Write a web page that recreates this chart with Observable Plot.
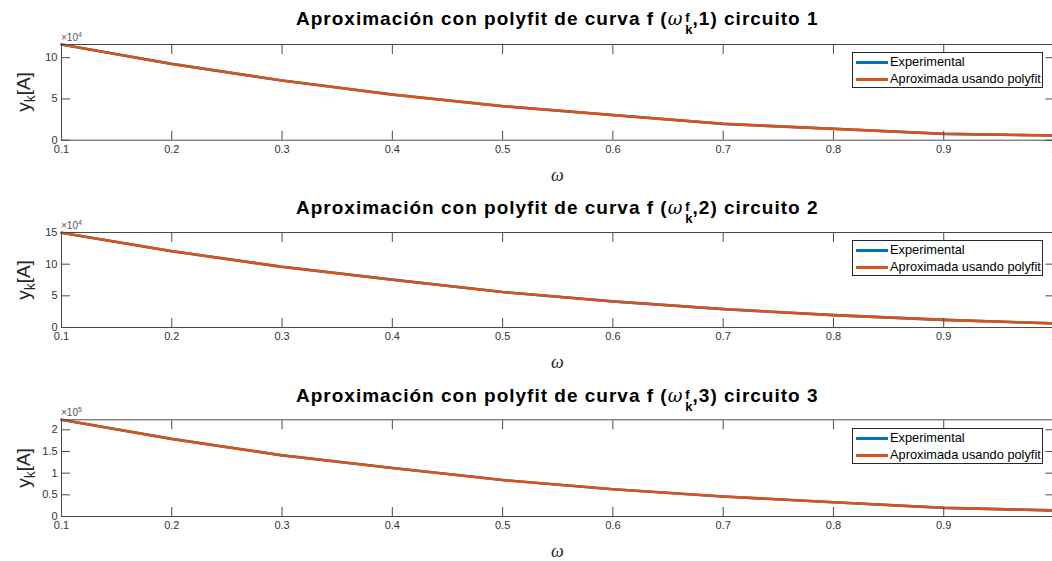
<!DOCTYPE html>
<html><head><meta charset="utf-8">
<script src="https://cdn.jsdelivr.net/npm/d3@7"></script>
<script src="https://cdn.jsdelivr.net/npm/@observablehq/plot@0.6"></script>
<style>
body{margin:0;background:#fff;overflow:hidden;font-family:"Liberation Sans",Arial,sans-serif}
#root{position:relative;width:1052px;height:561px;overflow:hidden;background:#fff}
.abs{position:absolute;white-space:nowrap}
.title{font-weight:bold;font-size:19px;line-height:19px;letter-spacing:1px;color:#000;transform:translateX(-50%)}
.w{font-weight:normal;font-style:italic;font-family:"DejaVu Serif","Liberation Serif",serif;font-size:18px;letter-spacing:0;margin-right:1px}
.ss{display:inline-flex;flex-direction:column;font-size:13px;line-height:12px;margin-left:2px;position:relative;top:-3px;letter-spacing:0}
.ylab{font-size:19px;color:#262626;transform:translate(-50%,-50%) rotate(-90deg)}
.ylab sub{font-size:14px;vertical-align:-5px}
.xlab{font-size:18px;font-style:italic;font-family:"Liberation Serif",serif;color:#262626;transform:translate(-50%,-50%)}
.mult{font-size:10px;color:#555}
.mult sup{font-size:7px;vertical-align:4px}
.legend{border:1px solid #262626;background:#fff;font-size:12.8px;color:#000;box-sizing:border-box}
.legend .row{position:absolute;left:3px;height:14px;line-height:14px}
.legend .sw{display:inline-block;width:32px;height:3px;vertical-align:middle;margin-right:2px}
svg{overflow:visible}
</style>
</head><body><div id="root"></div>
<script>
// ---- data ----
const omega = [0.1, 0.2, 0.3, 0.4, 0.5, 0.6, 0.7, 0.8, 0.9, 1.0];
const exp1 = [116000, 92500, 72300, 55300, 41200, 30500, 19800, 13800, 7700, 5700];
const fit1 = [116000, 92400, 72400, 55200, 41300, 30400, 19900, 13700, 7800, 5700];
const exp2 = [149500, 120500, 95800, 75600, 56000, 41200, 29000, 19500, 12000, 6500];
const fit2 = [149500, 120600, 95700, 75500, 56100, 41100, 29100, 19600, 12100, 6400];
const exp3 = [223000, 179000, 141000, 112000, 84000, 63000, 46000, 33000, 20000, 14000];
const fit3 = [223000, 178800, 141200, 111900, 84100, 62900, 46100, 32800, 20200, 13900];
const seriesNames = ["Experimental", "Aproximada usando polyfit"];
const seriesColors = ["#0072BD", "#D95319"];
const xTicks = [0.1, 0.2, 0.3, 0.4, 0.5, 0.6, 0.7, 0.8, 0.9, 1.0];
const yTicks1 = [0, 50000, 100000];
const yTicks2 = [0, 50000, 100000, 150000];
const yTicks3 = [0, 50000, 100000, 150000, 200000];
const circuits = [1, 2, 3];
const exponents = [4, 4, 5];

const subs = [
  {exp: exp1, fit: fit1, yTicks: yTicks1, ymax: 116000, top: 0, h: 190, mt: 44, mb: 50.3, titleTop: 9, legTop: 52, multTop: 31},
  {exp: exp2, fit: fit2, yTicks: yTicks2, ymax: 150000, top: 190, h: 190, mt: 42, mb: 53, titleTop: 198, legTop: 240, multTop: 219},
  {exp: exp3, fit: fit3, yTicks: yTicks3, ymax: 223000, top: 380, h: 181, mt: 39.3, mb: 45, titleTop: 385.5, legTop: 428, multTop: 406},
];

const root = document.getElementById("root");
const W = 1060, ML = 61, MR = W - 1053.5;
const axisColor = "#4a4a4a";

subs.forEach((s, i) => {
  const rows = [];
  omega.forEach((x, j) => {
    rows.push({x, y: s.exp[j], s: seriesNames[0]});
    rows.push({x, y: s.fit[j], s: seriesNames[1]});
  });
  const p = 10 ** exponents[i];
  const chart = Plot.plot({
    width: W, height: s.h,
    marginLeft: ML, marginRight: MR, marginTop: s.mt, marginBottom: s.mb,
    style: {fontFamily: "Liberation Sans, Arial, sans-serif", fontSize: "11px", color: "#333", background: "transparent"},
    x: {domain: [0.1, 1.0]},
    y: {domain: [0, s.ymax]},
    color: {domain: seriesNames, range: seriesColors},
    marks: [
      Plot.line(rows, {x: "x", y: "y", z: "s", stroke: "s", strokeWidth: 2.6}),
      Plot.frame({stroke: axisColor, strokeWidth: 1}),
      Plot.axisX({anchor: "bottom", ticks: xTicks, tickSize: -9, tickPadding: 14, tickFormat: d => d3.format("~g")(d), label: null, stroke: axisColor, fill: "#333"}),
      Plot.axisX({anchor: "top", ticks: xTicks, tickSize: -9, tickFormat: () => "", label: null, stroke: axisColor}),
      Plot.axisY({anchor: "left", ticks: s.yTicks, tickSize: -9, tickPadding: 13, tickFormat: d => d3.format("~g")(d / p), label: null, stroke: axisColor, fill: "#333"}),
      Plot.axisY({anchor: "right", ticks: s.yTicks, tickSize: -9, tickFormat: () => "", label: null, stroke: axisColor}),
    ]
  });
  chart.style.position = "absolute";
  chart.style.left = "0px";
  chart.style.top = s.top + "px";
  chart.style.maxWidth = "none";
  root.appendChild(chart);

  const frameTop = s.top + s.mt, frameBot = s.top + s.h - s.mb;
  const cx = (ML + 1053.5) / 2;

  const t = document.createElement("div");
  t.className = "abs title";
  t.style.left = cx + "px";
  t.style.top = s.titleTop + "px";
  t.innerHTML = `Aproximación con polyfit de curva f (<span class="w">ω</span><span class="ss"><span>f</span><span>k</span></span>,${circuits[i]}) circuito ${circuits[i]}`;
  root.appendChild(t);

  const yl = document.createElement("div");
  yl.className = "abs ylab";
  yl.style.left = "25px";
  yl.style.top = ((frameTop + frameBot) / 2) + "px";
  yl.innerHTML = "y<sub>k</sub>[A]";
  root.appendChild(yl);

  const xl = document.createElement("div");
  xl.className = "abs xlab";
  xl.style.left = cx + "px";
  xl.style.top = (frameBot + 35) + "px";
  xl.textContent = "ω";
  root.appendChild(xl);

  const m = document.createElement("div");
  m.className = "abs mult";
  m.style.left = "61px";
  m.style.top = s.multTop + "px";
  m.innerHTML = `×10<sup>${exponents[i]}</sup>`;
  root.appendChild(m);

  const lg = document.createElement("div");
  lg.className = "abs legend";
  lg.style.left = "852px";
  lg.style.top = s.legTop + "px";
  lg.style.width = "191px";
  lg.style.height = "36px";
  seriesNames.forEach((n, k) => {
    const r = document.createElement("div");
    r.className = "row";
    r.style.top = (2 + k * 17) + "px";
    r.innerHTML = `<span class="sw" style="background:${seriesColors[k]}"></span>${n}`;
    lg.appendChild(r);
  });
  root.appendChild(lg);
});
</script>
</body></html>
